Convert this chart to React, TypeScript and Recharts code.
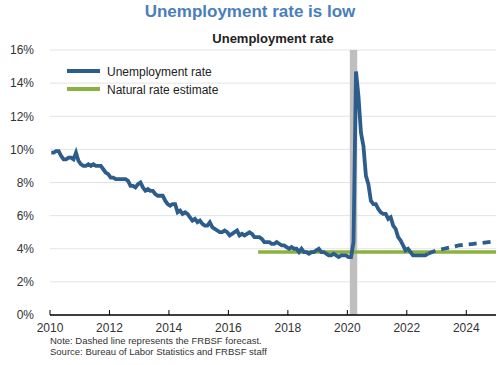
import React from "react";
import {
  LineChart,
  Line,
  XAxis,
  YAxis,
  CartesianGrid,
  ReferenceArea,
} from "recharts";

// monthly unemployment rate, Jan 2010 onward (%)
const startYear = 2010;
const unemployment = [
  9.8, 9.8, 9.9, 9.9, 9.6, 9.4, 9.4, 9.5, 9.5, 9.4, 9.8, 9.3,
  9.1, 9.0, 9.0, 9.1, 9.0, 9.1, 9.0, 9.0, 9.0, 8.8, 8.6, 8.5,
  8.3, 8.3, 8.2, 8.2, 8.2, 8.2, 8.2, 8.1, 7.8, 7.8, 7.7, 7.9,
  8.0, 7.7, 7.5, 7.6, 7.5, 7.5, 7.3, 7.2, 7.2, 7.2, 6.9, 6.7,
  6.6, 6.7, 6.7, 6.2, 6.3, 6.1, 6.2, 6.1, 5.9, 5.7, 5.8, 5.6,
  5.7, 5.5, 5.4, 5.4, 5.6, 5.3, 5.2, 5.1, 5.0, 5.0, 5.1, 5.0,
  4.8, 4.9, 5.0, 5.1, 4.8, 4.9, 4.8, 4.9, 5.0, 4.9, 4.7, 4.7,
  4.7, 4.6, 4.4, 4.4, 4.4, 4.3, 4.3, 4.4, 4.3, 4.2, 4.2, 4.1,
  4.0, 4.1, 4.0, 4.0, 3.8, 4.0, 3.8, 3.8, 3.7, 3.8, 3.8, 3.9,
  4.0, 3.8, 3.8, 3.7, 3.6, 3.6, 3.7, 3.6, 3.5, 3.6, 3.6, 3.6,
  3.5, 3.5, 4.4, 14.7, 13.2, 11.0, 10.2, 8.4, 7.9, 6.9, 6.7, 6.7,
  6.4, 6.2, 6.1, 6.1, 5.8, 5.9, 5.4, 5.2, 4.7, 4.5, 4.2, 3.9,
  4.0, 3.8, 3.6, 3.6, 3.6, 3.6, 3.6, 3.6, 3.7,
];

// FRBSF forecast (dashed)
const forecastYears = [2022.71, 2023.0, 2023.25, 2023.5, 2023.75, 2024.0, 2024.25, 2024.5, 2024.75, 2025.0];
const forecastRates = [3.7, 3.9, 4.0, 4.1, 4.2, 4.25, 4.3, 4.35, 4.4, 4.45];

const naturalYears = [2017.0, 2025.0];
const naturalRates = [3.8, 3.8];

const recession = [2020.083, 2020.333];

const xTicks = [2010, 2012, 2014, 2016, 2018, 2020, 2022, 2024];
const yTicks = [0, 2, 4, 6, 8, 10, 12, 14, 16];

const BLUE = "#2d5d8c";
const GREEN = "#8db13f";
const FONT = "'Liberation Sans', Arial, sans-serif";

const actualData = unemployment.map((v, i) => ({
  year: startYear + (i + 0.5) / 12,
  rate: v,
}));
const forecastData = forecastYears.map((y, i) => ({ year: y, rate: forecastRates[i] }));
const naturalData = naturalYears.map((y, i) => ({ year: y, rate: naturalRates[i] }));

const XTick = (props: any) => {
  const { x, y, payload } = props;
  return (
    <g>
      <line x1={x} x2={x} y1={y - 5} y2={y} stroke="#000" strokeWidth={1} />
      <text x={x} y={y + 17} textAnchor="middle" fontSize={12} fill="#333" fontFamily={FONT}>
        {payload.value}
      </text>
    </g>
  );
};

const App = () => {
  return (
    <div style={{ position: "relative", width: 500, height: 365, fontFamily: FONT, background: "#fff" }}>
      <style>{"body{margin:0}"}</style>
      <div
        style={{
          position: "absolute",
          top: 2,
          left: 0,
          width: 500,
          textAlign: "center",
          fontSize: 17,
          fontWeight: "bold",
          color: "#4a7ebb",
        }}
      >
        Unemployment rate is low
      </div>
      <div
        style={{
          position: "absolute",
          top: 31,
          left: 50,
          width: 446,
          textAlign: "center",
          fontSize: 13,
          fontWeight: "bold",
          color: "#222",
        }}
      >
        Unemployment rate
      </div>
      <LineChart width={500} height={365} margin={{ top: 50, right: 4, left: 0, bottom: 20 }}>
        <CartesianGrid vertical={false} stroke="#e3e3e3" />
        <ReferenceArea x1={recession[0]} x2={recession[1]} fill="#bfbfbf" fillOpacity={1} stroke="none" />
        <XAxis
          type="number"
          dataKey="year"
          domain={[2010, 2025]}
          ticks={xTicks}
          allowDataOverflow
          height={30}
          tickLine={false}
          tickSize={0}
          tickMargin={0}
          tick={<XTick />}
          axisLine={{ stroke: "#000", strokeWidth: 1.5 }}
        />
        <YAxis
          type="number"
          domain={[0, 16]}
          ticks={yTicks}
          width={50}
          axisLine={false}
          tickLine={false}
          tickMargin={10}
          tickFormatter={(v: number) => `${v}%`}
          tick={{ fontSize: 12, fill: "#333", fontFamily: FONT }}
        />
        <Line
          data={naturalData}
          dataKey="rate"
          stroke={GREEN}
          strokeWidth={3.5}
          dot={false}
          isAnimationActive={false}
        />
        <Line
          data={actualData}
          dataKey="rate"
          stroke={BLUE}
          strokeWidth={3.8}
          dot={false}
          type="linear"
          isAnimationActive={false}
        />
        <Line
          data={forecastData}
          dataKey="rate"
          stroke={BLUE}
          strokeWidth={3.8}
          strokeDasharray="8 6"
          dot={false}
          isAnimationActive={false}
        />
      </LineChart>
      <svg style={{ position: "absolute", left: 0, top: 0 }} width={300} height={100}>
        <line x1={67} x2={100} y1={71} y2={71} stroke={BLUE} strokeWidth={4} />
        <text x={107} y={75.5} fontSize={12} fill="#222" fontFamily={FONT}>
          Unemployment rate
        </text>
        <line x1={67} x2={100} y1={89} y2={89} stroke={GREEN} strokeWidth={4} />
        <text x={107} y={93.5} fontSize={12} fill="#222" fontFamily={FONT}>
          Natural rate estimate
        </text>
      </svg>
      <div
        style={{
          position: "absolute",
          left: 50,
          top: 335,
          fontSize: 9.5,
          lineHeight: "11px",
          color: "#333",
        }}
      >
        Note: Dashed line represents the FRBSF forecast.
        <br />
        Source: Bureau of Labor Statistics and FRBSF staff
      </div>
    </div>
  );
};

export default App;
